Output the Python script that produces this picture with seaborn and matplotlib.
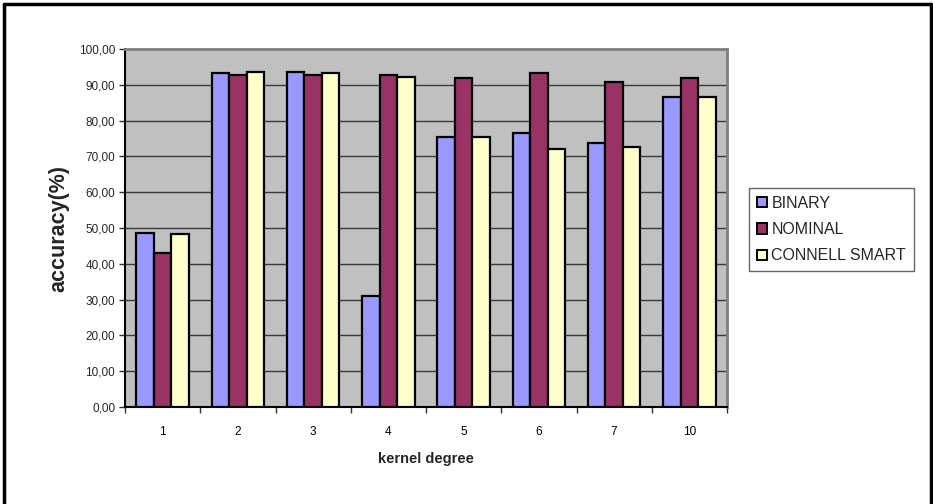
import matplotlib
matplotlib.use("Agg")
import matplotlib.pyplot as plt
from matplotlib.patches import Patch
from matplotlib.lines import Line2D
from matplotlib.ticker import FuncFormatter, FixedLocator
import numpy as np
import pandas as pd
import seaborn as sns

# Accuracy (%) per kernel degree for each feature representation
degrees = ["1", "2", "3", "4", "5", "6", "7", "10"]
binary = [48.7, 93.2, 93.7, 30.9, 75.4, 76.4, 73.7, 86.5]
nominal = [43.1, 92.7, 92.7, 92.7, 92.0, 93.2, 90.9, 92.0]
connell_smart = [48.2, 93.7, 93.2, 92.1, 75.4, 72.1, 72.7, 86.5]
series_names = ["BINARY", "NOMINAL", "CONNELL SMART"]
series_colors = ["#9999FF", "#993366", "#FFFFCC"]
y_ticks = list(range(0, 101, 10))

df = pd.DataFrame({
    "degree": degrees * 3,
    "accuracy": binary + nominal + connell_smart,
    "representation": [n for n in series_names for _ in degrees],
})

sns.set_theme(style="white")
plt.rcParams["font.family"] = ["Liberation Sans", "DejaVu Sans"]

fig = plt.figure(figsize=(9.33, 5.04), dpi=100)
ax = fig.add_axes([125 / 933, 1 - 407 / 504, 602 / 933, 358 / 504])
ax.set_facecolor("#C0C0C0")

sns.barplot(
    data=df, x="degree", y="accuracy", hue="representation",
    order=degrees, hue_order=series_names, palette=series_colors,
    width=0.7, gap=0, edgecolor="black", linewidth=1.6,
    saturation=1, errorbar=None, ax=ax, zorder=3,
)

ax.set_ylim(0, 100)
ax.set_xlim(-0.5, len(degrees) - 0.5)
ax.yaxis.set_major_locator(FixedLocator(y_ticks))
ax.yaxis.set_major_formatter(FuncFormatter(lambda v, _: f"{v:.2f}".replace(".", ",")))
ax.grid(axis="y", color="#3a3a3a", linewidth=1.0, zorder=1)
ax.set_axisbelow(True)

# category labels centred, tick marks on the group boundaries
ax.xaxis.set_minor_locator(FixedLocator(np.arange(-0.5, len(degrees), 1.0)))
ax.tick_params(axis="x", which="major", length=0, labelsize=8.5, pad=14, colors="black")
ax.tick_params(axis="x", which="minor", length=4, width=1, direction="out", color="#333333", bottom=True)
ax.tick_params(axis="y", which="major", length=4, width=1, direction="out", color="#333333",
               labelsize=8.5, left=True, pad=3)

for side in ("left", "bottom"):
    ax.spines[side].set_color("black")
    ax.spines[side].set_linewidth(1.5)
for side in ("top", "right"):
    ax.spines[side].set_color("#808080")
    ax.spines[side].set_linewidth(2)

ax.set_xlabel("kernel degree", fontsize=10.5, fontweight="bold", labelpad=10)
ax.set_ylabel("accuracy(%)", fontsize=15.5, fontweight="bold", labelpad=7)

if ax.legend_:
    ax.legend_.remove()
handles = [Patch(facecolor=c, edgecolor="black", linewidth=1.4) for c in series_colors]
leg = fig.legend(
    handles, series_names, loc="upper left",
    bbox_to_anchor=(749 / 933, 1 - 188 / 504), bbox_transform=fig.transFigure,
    fontsize=11.5, frameon=True, fancybox=False, handlelength=0.6, handleheight=0.6,
    handletextpad=0.3, labelspacing=0.7, borderpad=0.5, borderaxespad=0,
)
leg.get_frame().set_edgecolor("#404040")
leg.get_frame().set_linewidth(1.0)

# outer frame: left, top and right edges
for xs, ys in [((4, 4), (0, 500.5)), ((4, 931), (500.5, 500.5)), ((931, 931), (0, 500.5))]:
    fig.add_artist(Line2D([x / 933 for x in xs], [y / 504 for y in ys],
                          transform=fig.transFigure, color="black", linewidth=2.5))

fig.savefig("out.png", dpi=100, facecolor="white")
